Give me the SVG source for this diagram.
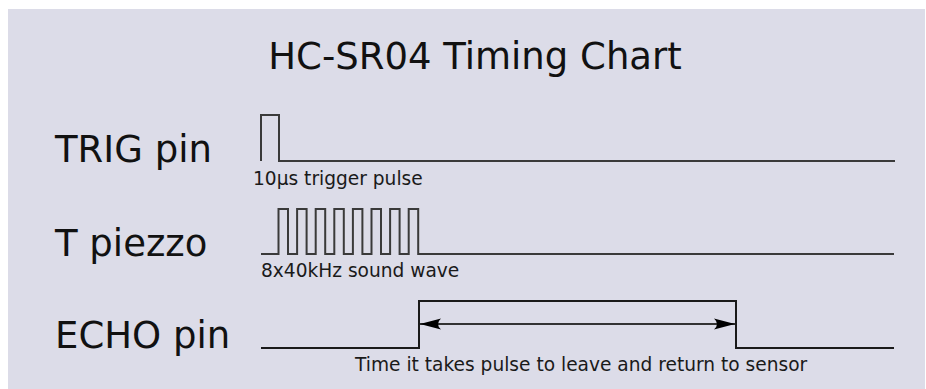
<svg xmlns="http://www.w3.org/2000/svg" width="926" height="389" viewBox="0 0 926 389">
  <style>
    .bg { fill: #dcdce8; }
    .title { font-family: "DejaVu Sans", "Liberation Sans", sans-serif; font-size: 37px; fill: #111; }
    .lbl { font-family: "DejaVu Sans", "Liberation Sans", sans-serif; font-size: 37px; fill: #111; }
    .small { font-family: "DejaVu Sans", "Liberation Sans", sans-serif; font-size: 18.6px; fill: #1a1a1a; }
    .sig { fill: none; stroke: #3a3a3a; stroke-width: 2; stroke-linejoin: miter; }
    .echo { fill: none; stroke: #1a1a1a; stroke-width: 2; }
    .dim { fill: none; stroke: #333; stroke-width: 2; }
  </style>
  <defs>
    <marker id="ahEnd" markerUnits="userSpaceOnUse" markerWidth="24" markerHeight="14" viewBox="-22 -7 24 14" refX="0" refY="0" orient="auto">
      <path d="M0,0 L-21,-5.5 Q-15,0 -21,5.5 Z" fill="#000"/>
    </marker>
    <marker id="ahStart" markerUnits="userSpaceOnUse" markerWidth="24" markerHeight="14" viewBox="-2 -7 24 14" refX="0" refY="0" orient="auto">
      <path d="M0,0 L21,-5.5 Q15,0 21,5.5 Z" fill="#000"/>
    </marker>
  </defs>

  <rect x="0" y="0" width="926" height="389" fill="#ffffff"/>
  <rect class="bg" x="8" y="9" width="917" height="380"/>

  <g id="title">
    <text class="title" x="475" y="69" text-anchor="middle">HC-SR04 Timing Chart</text>
  </g>

  <g id="trig">
    <text class="lbl" x="55" y="162">TRIG pin</text>
    <path class="sig" d="M261,161 V115 H279 V161 H895"/>
    <text class="small" x="253" y="185">10µs trigger pulse</text>
  </g>

  <g id="piezzo">
    <text class="lbl" x="55" y="256">T piezzo</text>
    <path class="sig" d="M261,254 H278.5 V209 H288 V254 H297.1 V209 H306.6 V254 H315.7 V209 H325.2 V254 H334.3 V209 H343.8 V254 H352.9 V209 H362.4 V254 H371.5 V209 H381 V254 H390.1 V209 H399.6 V254 H408.7 V209 H418.2 V254 H894"/>
    <text class="small" x="261" y="277">8x40kHz sound wave</text>
  </g>

  <g id="echo">
    <text class="lbl" x="55" y="348">ECHO pin</text>
    <path class="echo" d="M261,348 H419 V301 H736 V348 H894"/>
  </g>

  <g id="connectors">
    <line class="dim" x1="420" y1="324" x2="735" y2="324" marker-start="url(#ahStart)" marker-end="url(#ahEnd)"/>
    <text class="small" x="355" y="371">Time it takes pulse to leave and return to sensor</text>
  </g>
</svg>
